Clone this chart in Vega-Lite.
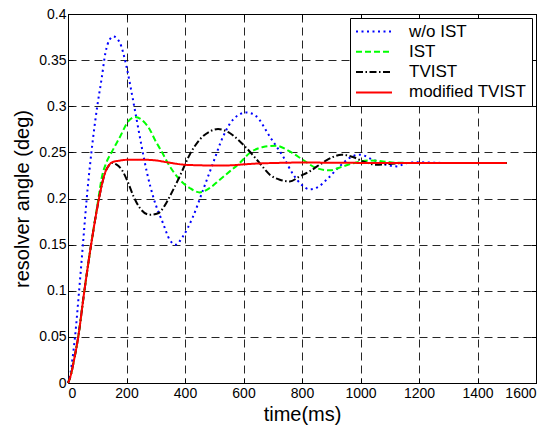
{
  "$schema": "https://vega.github.io/schema/vega-lite/v6.json",
  "width": 468,
  "height": 369,
  "autosize": {"type": "none"},
  "padding": {"left": 68, "top": 14, "right": 24, "bottom": 44},
  "background": "white",
  "config": {
    "font": "Liberation Sans",
    "view": {"stroke": "#000000", "strokeWidth": 1, "fill": "white"},
    "axis": {
      "domain": true,
      "domainColor": "#000000",
      "domainWidth": 1,
      "ticks": true,
      "tickColor": "#000000",
      "tickSize": -5,
      "gridColor": "#000000",
      "gridOpacity": 0.85,
      "gridDash": [8, 5],
      "gridWidth": 1,
      "labelFont": "Liberation Sans",
      "labelFontSize": 14,
      "labelColor": "#000000",
      "titleFont": "Liberation Sans",
      "titleFontSize": 20,
      "titleFontWeight": "normal",
      "titleColor": "#000000"
    },
    "legend": {
      "orient": "top-right",
      "offset": 4,
      "fillColor": "white",
      "strokeColor": "black",
      "padding": 5,
      "labelFont": "Liberation Sans",
      "labelFontSize": 17,
      "labelColor": "#000000",
      "symbolType": "stroke",
      "symbolSize": 1296,
      "symbolStrokeWidth": 2,
      "labelOffset": 16,
      "clipHeight": 17,
      "rowPadding": 2.3
    }
  },
  "data": {
    "values": [
      {"t": 0, "v": 0, "s": "w/o IST"},
      {"t": 8, "v": 0.01, "s": "w/o IST"},
      {"t": 16, "v": 0.028, "s": "w/o IST"},
      {"t": 24, "v": 0.05, "s": "w/o IST"},
      {"t": 38, "v": 0.1, "s": "w/o IST"},
      {"t": 51, "v": 0.15, "s": "w/o IST"},
      {"t": 64, "v": 0.2, "s": "w/o IST"},
      {"t": 80, "v": 0.25, "s": "w/o IST"},
      {"t": 100, "v": 0.3, "s": "w/o IST"},
      {"t": 115, "v": 0.33, "s": "w/o IST"},
      {"t": 128, "v": 0.358, "s": "w/o IST"},
      {"t": 142, "v": 0.372, "s": "w/o IST"},
      {"t": 155, "v": 0.3757, "s": "w/o IST"},
      {"t": 177, "v": 0.369, "s": "w/o IST"},
      {"t": 200, "v": 0.343, "s": "w/o IST"},
      {"t": 218, "v": 0.314, "s": "w/o IST"},
      {"t": 235, "v": 0.285, "s": "w/o IST"},
      {"t": 252, "v": 0.256, "s": "w/o IST"},
      {"t": 270, "v": 0.228, "s": "w/o IST"},
      {"t": 293, "v": 0.2, "s": "w/o IST"},
      {"t": 325, "v": 0.173, "s": "w/o IST"},
      {"t": 348, "v": 0.155, "s": "w/o IST"},
      {"t": 368, "v": 0.15, "s": "w/o IST"},
      {"t": 393, "v": 0.159, "s": "w/o IST"},
      {"t": 427, "v": 0.18, "s": "w/o IST"},
      {"t": 462, "v": 0.2095, "s": "w/o IST"},
      {"t": 496, "v": 0.2385, "s": "w/o IST"},
      {"t": 530, "v": 0.267, "s": "w/o IST"},
      {"t": 564, "v": 0.2854, "s": "w/o IST"},
      {"t": 610, "v": 0.2933, "s": "w/o IST"},
      {"t": 644, "v": 0.289, "s": "w/o IST"},
      {"t": 690, "v": 0.267, "s": "w/o IST"},
      {"t": 735, "v": 0.2456, "s": "w/o IST"},
      {"t": 770, "v": 0.226, "s": "w/o IST"},
      {"t": 800, "v": 0.2145, "s": "w/o IST"},
      {"t": 826, "v": 0.21, "s": "w/o IST"},
      {"t": 855, "v": 0.2125, "s": "w/o IST"},
      {"t": 883, "v": 0.22, "s": "w/o IST"},
      {"t": 929, "v": 0.235, "s": "w/o IST"},
      {"t": 963, "v": 0.244, "s": "w/o IST"},
      {"t": 997, "v": 0.2475, "s": "w/o IST"},
      {"t": 1043, "v": 0.242, "s": "w/o IST"},
      {"t": 1089, "v": 0.2366, "s": "w/o IST"},
      {"t": 1123, "v": 0.2348, "s": "w/o IST"},
      {"t": 1160, "v": 0.2385, "s": "w/o IST"},
      {"t": 1200, "v": 0.2392, "s": "w/o IST"},
      {"t": 1300, "v": 0.2385, "s": "w/o IST"},
      {"t": 1500, "v": 0.2385, "s": "w/o IST"},

      {"t": 0, "v": 0, "s": "IST"},
      {"t": 10, "v": 0.009, "s": "IST"},
      {"t": 20, "v": 0.024, "s": "IST"},
      {"t": 35, "v": 0.05, "s": "IST"},
      {"t": 56, "v": 0.1, "s": "IST"},
      {"t": 79, "v": 0.15, "s": "IST"},
      {"t": 104, "v": 0.2, "s": "IST"},
      {"t": 115, "v": 0.222, "s": "IST"},
      {"t": 130, "v": 0.238, "s": "IST"},
      {"t": 149, "v": 0.25, "s": "IST"},
      {"t": 178, "v": 0.267, "s": "IST"},
      {"t": 206, "v": 0.2836, "s": "IST"},
      {"t": 229, "v": 0.2883, "s": "IST"},
      {"t": 263, "v": 0.282, "s": "IST"},
      {"t": 280, "v": 0.2746, "s": "IST"},
      {"t": 297, "v": 0.2637, "s": "IST"},
      {"t": 320, "v": 0.251, "s": "IST"},
      {"t": 348, "v": 0.2348, "s": "IST"},
      {"t": 382, "v": 0.2204, "s": "IST"},
      {"t": 416, "v": 0.2114, "s": "IST"},
      {"t": 450, "v": 0.2066, "s": "IST"},
      {"t": 485, "v": 0.2114, "s": "IST"},
      {"t": 519, "v": 0.2204, "s": "IST"},
      {"t": 553, "v": 0.2294, "s": "IST"},
      {"t": 587, "v": 0.2385, "s": "IST"},
      {"t": 621, "v": 0.2493, "s": "IST"},
      {"t": 667, "v": 0.2558, "s": "IST"},
      {"t": 712, "v": 0.2572, "s": "IST"},
      {"t": 758, "v": 0.251, "s": "IST"},
      {"t": 803, "v": 0.242, "s": "IST"},
      {"t": 849, "v": 0.233, "s": "IST"},
      {"t": 895, "v": 0.2305, "s": "IST"},
      {"t": 940, "v": 0.2348, "s": "IST"},
      {"t": 986, "v": 0.2391, "s": "IST"},
      {"t": 1031, "v": 0.2413, "s": "IST"},
      {"t": 1077, "v": 0.2402, "s": "IST"},
      {"t": 1120, "v": 0.2388, "s": "IST"},
      {"t": 1200, "v": 0.2385, "s": "IST"},
      {"t": 1500, "v": 0.2385, "s": "IST"},

      {"t": 0, "v": 0, "s": "TVIST"},
      {"t": 10, "v": 0.009, "s": "TVIST"},
      {"t": 20, "v": 0.024, "s": "TVIST"},
      {"t": 35, "v": 0.05, "s": "TVIST"},
      {"t": 56, "v": 0.1, "s": "TVIST"},
      {"t": 79, "v": 0.15, "s": "TVIST"},
      {"t": 106, "v": 0.2, "s": "TVIST"},
      {"t": 118, "v": 0.218, "s": "TVIST"},
      {"t": 128, "v": 0.229, "s": "TVIST"},
      {"t": 140, "v": 0.236, "s": "TVIST"},
      {"t": 150, "v": 0.2385, "s": "TVIST"},
      {"t": 165, "v": 0.237, "s": "TVIST"},
      {"t": 184, "v": 0.231, "s": "TVIST"},
      {"t": 206, "v": 0.2168, "s": "TVIST"},
      {"t": 224, "v": 0.2023, "s": "TVIST"},
      {"t": 245, "v": 0.19, "s": "TVIST"},
      {"t": 279, "v": 0.1824, "s": "TVIST"},
      {"t": 308, "v": 0.184, "s": "TVIST"},
      {"t": 330, "v": 0.192, "s": "TVIST"},
      {"t": 348, "v": 0.2023, "s": "TVIST"},
      {"t": 382, "v": 0.224, "s": "TVIST"},
      {"t": 416, "v": 0.2475, "s": "TVIST"},
      {"t": 450, "v": 0.2637, "s": "TVIST"},
      {"t": 485, "v": 0.2727, "s": "TVIST"},
      {"t": 513, "v": 0.2753, "s": "TVIST"},
      {"t": 553, "v": 0.271, "s": "TVIST"},
      {"t": 587, "v": 0.262, "s": "TVIST"},
      {"t": 621, "v": 0.251, "s": "TVIST"},
      {"t": 655, "v": 0.2385, "s": "TVIST"},
      {"t": 690, "v": 0.2258, "s": "TVIST"},
      {"t": 724, "v": 0.2204, "s": "TVIST"},
      {"t": 758, "v": 0.2185, "s": "TVIST"},
      {"t": 792, "v": 0.224, "s": "TVIST"},
      {"t": 826, "v": 0.2294, "s": "TVIST"},
      {"t": 872, "v": 0.2391, "s": "TVIST"},
      {"t": 906, "v": 0.245, "s": "TVIST"},
      {"t": 935, "v": 0.2475, "s": "TVIST"},
      {"t": 974, "v": 0.245, "s": "TVIST"},
      {"t": 1009, "v": 0.2402, "s": "TVIST"},
      {"t": 1054, "v": 0.2366, "s": "TVIST"},
      {"t": 1100, "v": 0.2374, "s": "TVIST"},
      {"t": 1150, "v": 0.2385, "s": "TVIST"},
      {"t": 1500, "v": 0.2385, "s": "TVIST"},

      {"t": 0, "v": 0, "s": "modified TVIST"},
      {"t": 10, "v": 0.009, "s": "modified TVIST"},
      {"t": 20, "v": 0.024, "s": "modified TVIST"},
      {"t": 35, "v": 0.05, "s": "modified TVIST"},
      {"t": 56, "v": 0.1, "s": "modified TVIST"},
      {"t": 79, "v": 0.15, "s": "modified TVIST"},
      {"t": 106, "v": 0.2, "s": "modified TVIST"},
      {"t": 118, "v": 0.218, "s": "modified TVIST"},
      {"t": 128, "v": 0.229, "s": "modified TVIST"},
      {"t": 140, "v": 0.236, "s": "modified TVIST"},
      {"t": 150, "v": 0.2392, "s": "modified TVIST"},
      {"t": 175, "v": 0.241, "s": "modified TVIST"},
      {"t": 206, "v": 0.242, "s": "modified TVIST"},
      {"t": 260, "v": 0.242, "s": "modified TVIST"},
      {"t": 300, "v": 0.2413, "s": "modified TVIST"},
      {"t": 340, "v": 0.2392, "s": "modified TVIST"},
      {"t": 399, "v": 0.2366, "s": "modified TVIST"},
      {"t": 450, "v": 0.236, "s": "modified TVIST"},
      {"t": 507, "v": 0.2357, "s": "modified TVIST"},
      {"t": 560, "v": 0.236, "s": "modified TVIST"},
      {"t": 600, "v": 0.237, "s": "modified TVIST"},
      {"t": 655, "v": 0.238, "s": "modified TVIST"},
      {"t": 720, "v": 0.2386, "s": "modified TVIST"},
      {"t": 800, "v": 0.239, "s": "modified TVIST"},
      {"t": 900, "v": 0.2388, "s": "modified TVIST"},
      {"t": 1000, "v": 0.2386, "s": "modified TVIST"},
      {"t": 1200, "v": 0.2385, "s": "modified TVIST"},
      {"t": 1500, "v": 0.2385, "s": "modified TVIST"}
    ]
  },
  "layer": [
    {
      "mark": {"type": "line", "interpolate": "monotone", "strokeWidth": 2},
      "encoding": {
        "x": {"field": "t", "type": "quantitative", "scale": {"domain": [0, 1600], "nice": false},
              "axis": {"orient": "bottom", "grid": true, "domain": true, "values": [0, 200, 400, 600, 800, 1000, 1200, 1400, 1600], "format": "d", "title": "time(ms)", "labelPadding": 8, "titlePadding": 4}},
        "y": {"field": "v", "type": "quantitative", "scale": {"domain": [0, 0.4], "nice": false},
              "axis": {"orient": "left", "grid": true, "domain": true, "values": [0, 0.05, 0.1, 0.15, 0.2, 0.25, 0.3, 0.35, 0.4], "format": ".2~f", "title": "resolver angle (deg)", "labelPadding": 7, "titlePadding": 6}},
        "color": {"field": "s", "type": "nominal", "title": null,
                  "scale": {"domain": ["w/o IST", "IST", "TVIST", "modified TVIST"], "range": ["#0000ff", "#00ff00", "#000000", "#ff0000"]}},
        "strokeDash": {"field": "s", "type": "nominal", "title": null,
                  "scale": {"domain": ["w/o IST", "IST", "TVIST", "modified TVIST"], "range": [[2, 3.5], [6, 3], [7, 2.5, 1.5, 2.5], [1, 0]]}}
      }
    },
    {
      "mark": {"type": "line", "opacity": 0},
      "encoding": {
        "x": {"field": "t", "type": "quantitative",
              "axis": {"orient": "top", "grid": false, "domain": true, "labels": false, "title": null, "values": [0, 200, 400, 600, 800, 1000, 1200, 1400, 1600]}},
        "y": {"field": "v", "type": "quantitative",
              "axis": {"orient": "right", "grid": false, "domain": true, "labels": false, "title": null, "values": [0, 0.05, 0.1, 0.15, 0.2, 0.25, 0.3, 0.35, 0.4]}}
      }
    }
  ],
  "resolve": {"axis": {"x": "independent", "y": "independent"}}
}
